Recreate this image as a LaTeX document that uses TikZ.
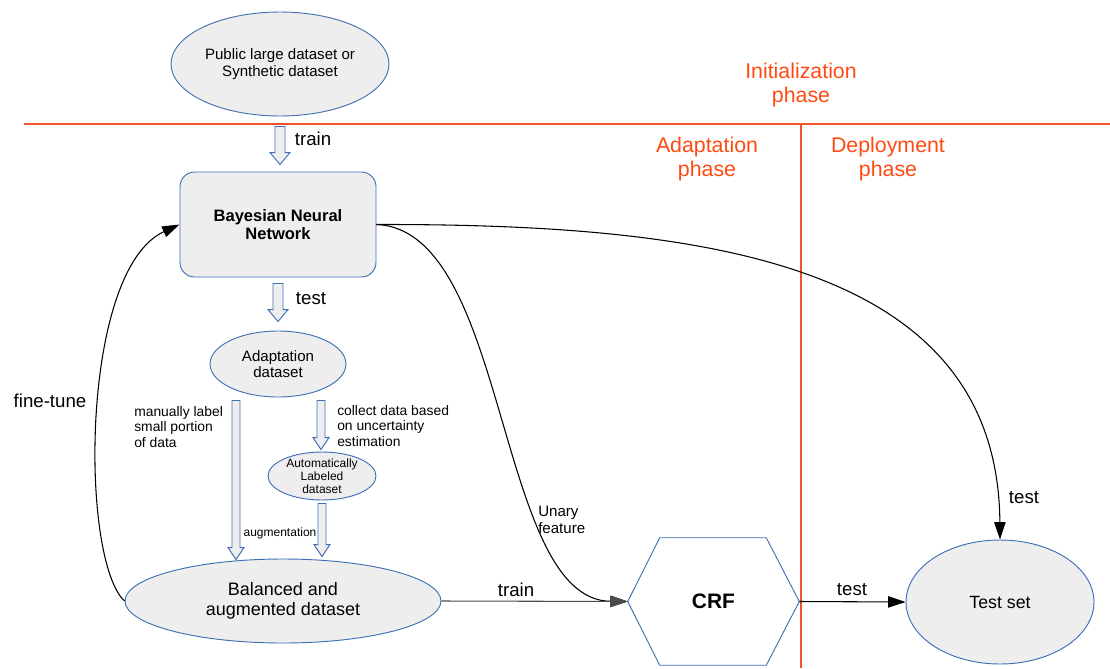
\documentclass[tikz,border=0pt]{standalone}
\usepackage{fontspec}
\setmainfont{Liberation Sans}
\usetikzlibrary{arrows.meta,positioning,shapes.geometric,calc}
\definecolor{dsBlue}{HTML}{3F6FB5}
\definecolor{dsFill}{HTML}{EEEEEE}
\definecolor{phRed}{HTML}{FF4A12}
\definecolor{phLine}{HTML}{F0552A}
\tikzset{
  dataset/.style={
    ellipse,
    draw=dsBlue,
    fill=dsFill,
    line width=0.7pt,
    align=center,
    inner sep=0pt,
    font=\fontsize{11.3}{12.5}\selectfont
  },
  netbox/.style={
    rectangle,
    rounded corners=11pt,
    draw=dsBlue,
    fill=dsFill,
    line width=0.7pt,
    align=center,
    font=\bfseries\fontsize{12.4}{14}\selectfont,
    minimum width=147pt,
    minimum height=78.75pt
  },
  phase/.style={text=phRed, align=center, font=\fontsize{16}{18}\selectfont},
  lbl/.style={inner sep=0pt, font=\fontsize{14}{16}\selectfont},
  note/.style={inner sep=0pt, align=left, font=\fontsize{10.4}{11.5}\selectfont},
  tinynote/.style={inner sep=0pt, align=center, font=\fontsize{9}{9.8}\selectfont},
  arrow/.style={-{Triangle[length=13pt,width=8.5pt]}, line width=0.8pt, draw=black},
  phaseline/.style={draw=phLine, line width=0.8pt},
  blockarrow/.style 2 args={
    draw=dsBlue,
    fill=dsFill,
    line width=0.7pt,
    to path={let \p1=(\tikztostart), \p2=(\tikztotarget) in
      (\x1-#1,\y1) -- (\x1+#1,\y1) -- (\x1+#1,\y2+9pt) -- (\x1+#2,\y2+9pt)
      -- (\x1,\y2) -- (\x1-#2,\y2+9pt) -- (\x1-#1,\y2+9pt) -- cycle}
  }
}
\begin{document}
\begin{tikzpicture}[x=0.75pt, y=-0.75pt]
  \useasboundingbox (0,0) rectangle (1110,668);

  % phases
  \draw[phaseline] (24,124) -- (1110,124);
  \draw[phaseline] (801,124) -- (801,668);
  \node[phase] (init) at (801,85) {Initialization\\phase};
  \node[phase] (adapt) at (707,159) {Adaptation\\phase};
  \node[phase] (deploy) at (888,159) {Deployment\\phase};

  % datasets and models
  \node[dataset, minimum width=163.5pt, minimum height=78pt] (pub) at (280,64) {Public large dataset or\\Synthetic dataset};
  \node[netbox] (bnn) at (278,224.5) {Bayesian Neural\\Network};
  \node[dataset, minimum width=102pt, minimum height=49.5pt] (ada) at (278,364) {Adaptation\\dataset};
  \node[dataset, minimum width=81pt, minimum height=36pt,
        label={[tinynote]center:Automatically\\Labeled\\dataset}] (auto) at (322,476) {};
  \node[dataset, font=\fontsize{13.5}{15}\selectfont, minimum width=237pt, minimum height=63pt] (bal) at (283,601) {Balanced and\\augmented dataset};
  \node[inner sep=0pt, minimum width=128.25pt, minimum height=95.25pt, font=\bfseries\fontsize{15.7}{18}\selectfont] (crf) at (713.5,601.5) {CRF};
  \draw[draw=dsBlue, line width=0.7pt] (crf.west) -- ([xshift=24pt]crf.north west) -- ([xshift=-24.75pt]crf.north east)
    -- (crf.east) -- ([xshift=-24.75pt]crf.south east) -- ([xshift=24pt]crf.south west) -- cycle;
  \node[dataset, font=\fontsize{13.3}{15}\selectfont, minimum width=141pt, minimum height=93pt] (ts) at (1000,602) {Test set};

  % hollow arrows
  \draw[blockarrow={3.75pt}{7.5pt}] ([yshift=-7.5pt]pub.south) to ([yshift=5.25pt]bnn.north);
  \draw[blockarrow={3.75pt}{7.5pt}] ([yshift=-4.5pt]bnn.south) to ([yshift=6.75pt]ada.north);
  \draw[blockarrow={3pt}{6pt}] ([xshift=-31.5pt,yshift=-2.25pt]ada.south) to ([yshift=-0.75pt]bal.north);
  \draw[blockarrow={3pt}{6pt}] ([xshift=32.25pt,yshift=-2.25pt]ada.south) to ([yshift=1.5pt]auto.north);
  \draw[blockarrow={3pt}{6pt}] ([yshift=-2.25pt]auto.south) to ([yshift=1.5pt]bal.north);

  % labels
  \node[lbl] (trainlbl) at (313,139) {train};
  \node[lbl] (testlbl) at (311,299) {test};
  \node[note, anchor=west] (manlbl) at (134,427) {manually label\\small portion\\of data};
  \node[note, anchor=west] (collbl) at (337,426) {collect data based\\on uncertainty\\estimation};
  \node[tinynote] (auglbl) at (280,533) {augmentation};
  \node[lbl] (ftlbl) at (50,401) {fine-tune};
  \node[note, font=\fontsize{11.3}{12.8}\selectfont, anchor=west] (unarylbl) at (538,520) {Unary\\feature};
  \node[lbl] (tstestlbl) at (1024,498) {test};
  \node[lbl] (crftrainlbl) at (516,590) {train};
  \node[lbl] (crftestlbl) at (852,590) {test};

  % connectors
  \draw[arrow] (bal.west) .. controls (80,560) and (80,270) .. (bnn.west);
  \draw[arrow] (bnn.east) .. controls (510,230) and (495,600) .. (crf.west);
  \draw[arrow] (bnn.east) .. controls (700,224) and (998,260) .. (ts.north);
  \draw[arrow, draw=black!70] (bal.east) -- (crf.west);
  \draw[arrow] (crf.east) -- (ts.west);
\end{tikzpicture}
\end{document}
